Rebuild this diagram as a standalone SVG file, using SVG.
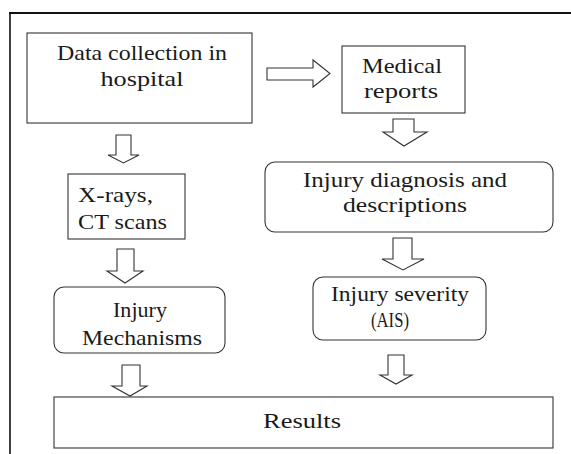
<svg xmlns="http://www.w3.org/2000/svg" width="571" height="454" viewBox="0 0 571 454">
<style>
.box{fill:#fff;stroke:#333;stroke-width:1.1}
.arr{fill:#fff;stroke:#333;stroke-width:1.1;stroke-linejoin:miter}
.frame{stroke:#111;fill:none}
text{font-family:"Liberation Serif","Times New Roman",serif;font-size:22px;fill:#1a1a1a}
.c{text-anchor:middle}
</style>
<rect width="571" height="454" fill="#fff"/>
<g id="frame">
<line class="frame" x1="9" y1="13" x2="571" y2="13" stroke-width="2"/>
<line class="frame" x1="10" y1="12" x2="10" y2="454" stroke-width="1.6"/>
</g>
<g id="connectors">
<path class="arr" d="M267,68 H313 V60 L330,73.5 L313,87 V80 H267 Z"/>
<path class="arr" d="M116,135 H131 V155 H139 L123.5,163 L108,155 H116 Z"/>
<path class="arr" d="M117,249 H134 V271 H143 L125,283 L107,271 H117 Z"/>
<path class="arr" d="M393,119 H414 V132 H427 L404,146 L383,132 H393 Z"/>
<path class="arr" d="M393,238 H412 V259 H424 L403,270 L382,259 H393 Z"/>
<path class="arr" d="M122,365 H140 V386 H147 L130,396 L112,386 H122 Z"/>
<path class="arr" d="M388,355 H404 V375 H412 L396,384 L380,375 H388 Z"/>
</g>
<g id="data-collection">
<rect class="box" x="27" y="33" width="225" height="90"/>
<text class="c" x="142" y="60" textLength="170" lengthAdjust="spacingAndGlyphs">Data collection in</text>
<text class="c" x="142" y="86" textLength="83" lengthAdjust="spacingAndGlyphs">hospital</text>
</g>
<g id="medical-reports">
<rect class="box" x="342" y="46" width="123" height="67"/>
<text class="c" x="402" y="73" textLength="80" lengthAdjust="spacingAndGlyphs">Medical</text>
<text class="c" x="401" y="98" textLength="74" lengthAdjust="spacingAndGlyphs">reports</text>
</g>
<g id="injury-diagnosis">
<rect class="box" x="265" y="162" width="288" height="70" rx="10"/>
<text class="c" x="405" y="187" textLength="204" lengthAdjust="spacingAndGlyphs">Injury diagnosis and</text>
<text class="c" x="405" y="212" textLength="124" lengthAdjust="spacingAndGlyphs">descriptions</text>
</g>
<g id="xrays">
<rect class="box" x="68" y="174" width="117" height="65"/>
<text x="78" y="202" textLength="75" lengthAdjust="spacingAndGlyphs">X-rays,</text>
<text x="78" y="229" textLength="89" lengthAdjust="spacingAndGlyphs">CT scans</text>
</g>
<g id="injury-mechanisms">
<rect class="box" x="54" y="287" width="171" height="66" rx="10"/>
<text class="c" x="140" y="317" textLength="54" lengthAdjust="spacingAndGlyphs">Injury</text>
<text class="c" x="142" y="345" textLength="120" lengthAdjust="spacingAndGlyphs">Mechanisms</text>
</g>
<g id="injury-severity">
<rect class="box" x="313" y="277" width="173" height="63" rx="10"/>
<text class="c" x="400" y="301" textLength="138" lengthAdjust="spacingAndGlyphs">Injury severity</text>
<text class="c" x="390" y="327" textLength="38" lengthAdjust="spacingAndGlyphs">(AIS)</text>
</g>
<g id="results">
<rect class="box" x="54" y="397" width="499" height="51"/>
<text class="c" x="302" y="428" textLength="78" lengthAdjust="spacingAndGlyphs">Results</text>
</g>
</svg>
